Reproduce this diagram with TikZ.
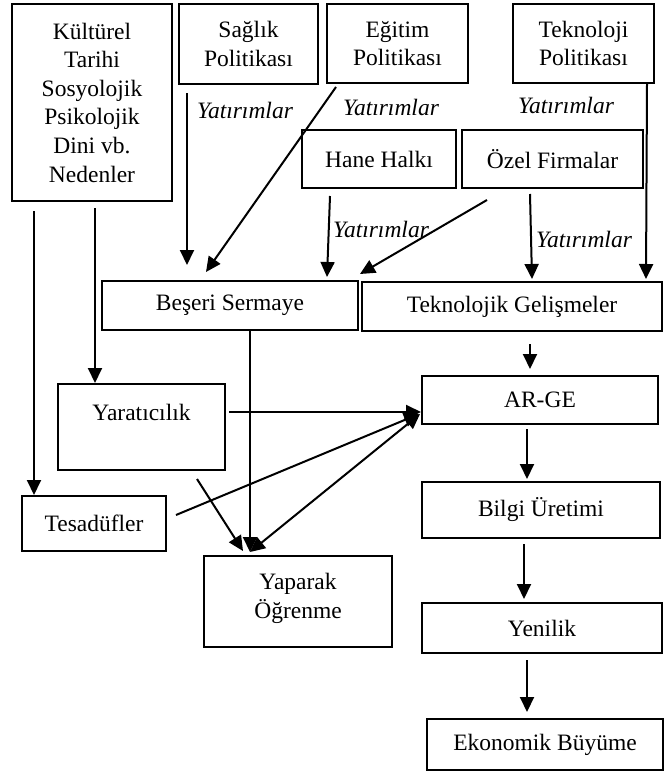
\documentclass[tikz,border=0pt]{standalone}
\usepackage{fontspec}
\setmainfont{Liberation Serif}
\usetikzlibrary{arrows.meta}
\begin{document}
\begin{tikzpicture}[x=1pt,y=-1pt,
  box/.style={draw,line width=2pt,inner sep=0pt,align=center,minimum width=#1},
  arr/.style={line width=2pt,-{Triangle[length=15pt,width=14pt]}},
  darr/.style={line width=2pt,{Triangle[length=15pt,width=14pt]}-{Triangle[length=15pt,width=14pt]}},
  yat/.style={font=\fontsize{23.5}{28.6}\selectfont\itshape,inner sep=0pt},
  every node/.style={font=\fontsize{23.5}{28.6}\selectfont}]
\useasboundingbox (0,0) rectangle (671,771);
% boxes
\node[box=160pt,minimum height=197pt] (kul) at (92,102.5) {Kültürel\\Tarihi\\Sosyolojik\\Psikolojik\\Dini vb.\\Nedenler};
\node[box=139pt,minimum height=80pt] (sag) at (248.5,44) {Sağlık\\Politikası};
\node[box=141pt,minimum height=79pt] (egi) at (397.5,43.5) {Eğitim\\Politikası};
\node[box=141pt,minimum height=79pt] (tpol) at (583.5,43.5) {Teknoloji\\Politikası};
\node[box=154pt,minimum height=58pt] (hane) at (379,159) {Hane Halkı};
\node[box=181pt,minimum height=58pt] (ozel) at (552.5,159) {Özel Firmalar};
\node[box=256pt,minimum height=49pt] (bes) at (230,305.5) {Beşeri Sermaye};
\node[box=300pt,minimum height=49pt] (tekg) at (512,306.5) {Teknolojik Gelişmeler};
\node[box=236pt,minimum height=48pt] (arge) at (540,400) {AR-GE};
\node[box=238pt,minimum height=56pt] (bilgi) at (541,510) {Bilgi Üretimi};
\node[box=240pt,minimum height=50pt] (yen) at (542,628) {Yenilik};
\node[box=236pt,minimum height=51pt] (eko) at (545,744.5) {Ekonomik Büyüme};
\node[box=188pt,minimum height=91pt] (yap) at (298,601.5) {Yaparak\\Öğrenme\\[-17pt]\mbox{}};
\node[box=167pt,minimum height=86pt] (yar) at (141.5,427) {Yaratıcılık\\\mbox{}};
\node[box=144pt,minimum height=55pt] (tes) at (94,523.5) {Tesadüfler};
% labels
\node[yat] (y1) at (245,110) {Yatırımlar};
\node[yat] (y2) at (391,107) {Yatırımlar};
\node[yat] (y3) at (566,105) {Yatırımlar};
\node[yat] (y4) at (381,229) {Yatırımlar};
\node[yat] (y5) at (584,239) {Yatırımlar};
% arrows
\draw[arr] ([xshift=-58pt,yshift=-9pt]kul.south) -- ([xshift=-60pt]tes.north);
\draw[arr] ([xshift=3pt,yshift=-6pt]kul.south) -- ([xshift=-46.5pt]yar.north);
\draw[arr] ([xshift=-61.5pt,yshift=-8pt]sag.south) -- ([xshift=-43pt,yshift=15pt]bes.north);
\draw[arr] ([xshift=-61.5pt,yshift=-3pt]egi.south) -- ([xshift=-24pt,yshift=8pt]bes.north);
\draw[arr] ([xshift=-49pt,yshift=-7pt]hane.south) -- ([xshift=97pt,yshift=3pt]bes.north);
\draw[arr] ([xshift=-65.5pt,yshift=-11pt]ozel.south) -- ([xshift=1pt,yshift=6pt]bes.north east);
\draw[arr] ([xshift=-22.5pt,yshift=-5pt]ozel.south) -- ([xshift=20pt,yshift=2pt]tekg.north);
\draw[arr] ([xshift=63.5pt]tpol.south) -- ([xshift=134pt,yshift=2pt]tekg.north);
\draw[arr] ([xshift=18pt,yshift=-12pt]tekg.south) -- ([xshift=-10pt,yshift=6pt]arge.north);
\draw[arr] ([xshift=-13pt,yshift=-4pt]arge.south) -- ([xshift=-14pt,yshift=2pt]bilgi.north);
\draw[arr] ([xshift=-17pt,yshift=-5pt]bilgi.south) -- ([xshift=-18pt,yshift=3pt]yen.north);
\draw[arr] ([xshift=-15pt,yshift=-6pt]yen.south) -- ([xshift=-18pt,yshift=6pt]eko.north);
\draw[arr] ([xshift=3pt,yshift=15pt]yar.east) -- ([yshift=-12pt]arge.west);
\draw[arr] ([xshift=9pt,yshift=8.5pt]tes.east) -- ([xshift=-2pt,yshift=-14pt]arge.west);
\draw[darr] ([xshift=-48pt,yshift=3pt]yap.north) -- ([xshift=-1pt,yshift=-14pt]arge.west);
\draw[arr] ([xshift=20pt]bes.south) -- ([xshift=-48pt,yshift=3pt]yap.north);
\draw[arr] ([xshift=55.5pt,yshift=-8pt]yar.south) -- ([xshift=-55pt,yshift=4pt]yap.north);
\end{tikzpicture}
\end{document}
